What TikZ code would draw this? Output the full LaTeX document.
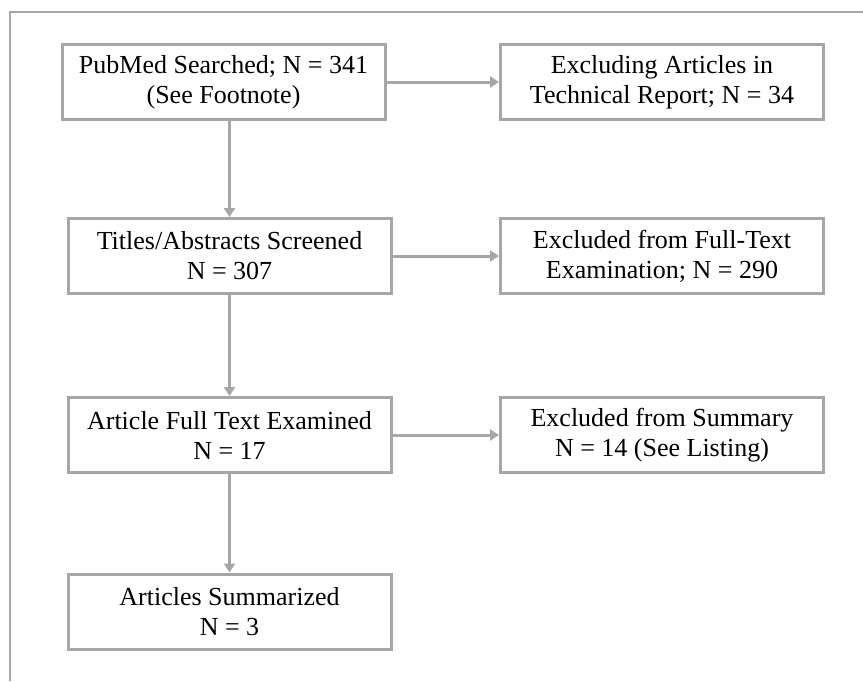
\documentclass[tikz,border=0pt]{standalone}
\usepackage{fontspec}
\setmainfont{Liberation Serif}
\usetikzlibrary{arrows.meta}
\definecolor{linegray}{HTML}{A6A6A6}
\tikzset{
  flowbox/.style = {draw = linegray, line width = 3pt, fill = white, align = center,
    minimum width = 323pt, minimum height = 75pt, inner sep = 2pt,
    font = \fontsize{26}{30}\selectfont},
  flowarrow/.style = {draw = linegray, line width = 3pt,
    -{Triangle[length = 9pt, width = 11pt]}}
}
\begin{document}
\begin{tikzpicture}[x = 1pt, y = -1pt]
\useasboundingbox (0, 0) rectangle (863, 681);
% Frame
\draw[linegray, line width = 1.6pt] (10, 681) -- (10, 12) -- (863, 12);
% Main column
\node[flowbox] (search) at (223.5, 82) {PubMed Searched; N = 341\\(See Footnote)};
\node[flowbox] (screen) at (229.5, 256) {Titles/Abstracts Screened\\N = 307};
\node[flowbox] (fulltext) at (229.5, 435) {Article Full Text Examined\\N = 17};
\node[flowbox] (summarized) at (229.5, 611.5) {Articles Summarized\\N = 3};
% Exclusions
\node[flowbox] (techreport) at (662, 82) {Excluding Articles in\\Technical Report; N = 34};
\node[flowbox] (exfulltext) at (662, 256) {Excluded from Full-Text\\Examination; N = 290};
\node[flowbox] (exsummary) at (662, 435) {Excluded from Summary\\N = 14 (See Listing)};
% Arrows
\draw[flowarrow] (screen.north |- search.south) -- (screen.north);
\draw[flowarrow] (screen.south) -- (fulltext.north);
\draw[flowarrow] (fulltext.south) -- (summarized.north);
\draw[flowarrow] (search.east) -- (techreport.west);
\draw[flowarrow] (screen.east) -- (exfulltext.west);
\draw[flowarrow] (fulltext.east) -- (exsummary.west);
\end{tikzpicture}
\end{document}
